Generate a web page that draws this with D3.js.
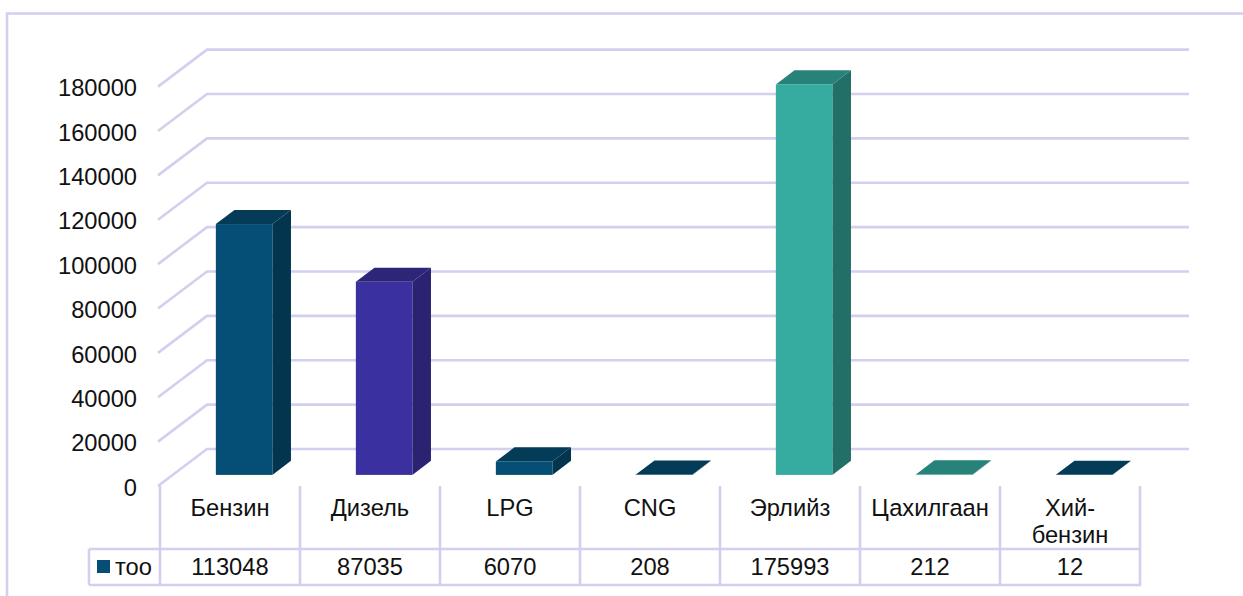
<!DOCTYPE html>
<html>
<head>
<meta charset="utf-8">
<script src="https://cdn.jsdelivr.net/npm/d3@7"></script>
<style>
  html, body { margin: 0; padding: 0; background: #fff; }
  svg { display: block; }
  text { font-family: "Liberation Sans", Arial, sans-serif; font-size: 23.7px; fill: #111; }
</style>
</head>
<body>
<div id="chart"></div>
<script>
const categories = [["Бензин"], ["Дизель"], ["LPG"], ["CNG"], ["Эрлийз"], ["Цахилгаан"], ["Хий-", "бензин"]];
const values = [113048, 87035, 6070, 208, 175993, 212, 12];
const yTicks = [0, 20000, 40000, 60000, 80000, 100000, 120000, 140000, 160000, 180000];
const seriesName = "тоо";

// front, side, top
const barColors = [
    ["#054e75", "#03354f", "#043c58"],
    ["#3a309f", "#2a2372", "#2c2578"],
    ["#054e75", "#03354f", "#043c58"],
    ["#054e75", "#03354f", "#043c58"],
    ["#36aba0", "#216f66", "#27827a"],
    ["#36aba0", "#216f66", "#27827a"],
    ["#054e75", "#03354f", "#043c58"]
];

const w = 1243;
const h = 596;
const gridColor = "#d2cfef";
const lineW = 2.6;

// the 3d box: floor goes back by wallX, wallY
const wallX = 49;
const wallY = 37;
const barZ0 = 0.3;
const barZ1 = 0.68;

const svg = d3.select("#chart")
    .append("svg")
    .attr("width", w)
    .attr("height", h);

const xScale = d3.scaleBand()
    .domain(d3.range(categories.length))
    .range([160, 1140]);

const yScale = d3.scaleLinear()
    .domain([0, 180000])
    .range([486, 86.6]);

// outer frame, runs off the picture on the right and bottom
svg.append("path")
    .attr("d", "M7,596V13.5H1243")
    .attr("fill", "none")
    .attr("stroke", gridColor)
    .attr("stroke-width", lineW);

// gridlines on side and back wall
svg.selectAll("path.grid")
    .data(yTicks)
    .enter()
    .append("path")
    .attr("class", "grid")
    .attr("d", (d) => d3.line()([
        [158, yScale(d)],
        [158 + wallX, yScale(d) - wallY],
        [1189, yScale(d) - wallY]
    ]))
    .attr("fill", "none")
    .attr("stroke", gridColor)
    .attr("stroke-width", lineW);

const yAxis = d3.axisLeft(yScale)
    .tickValues(yTicks)
    .tickFormat((d) => d)
    .tickSize(0)
    .tickPadding(0);

svg.append("g")
    .attr("transform", "translate(137,0.6)")
    .call(yAxis)
    .call((g) => g.select(".domain").remove())
    .selectAll("text")
    .attr("dy", "0.36em")
    .style("font-size", "23.7px")
    .style("font-family", '"Liberation Sans", Arial, sans-serif')
    .attr("fill", "#111");

// bars
const barW = 56.5;
const bars = svg.selectAll("g.bar")
    .data(values)
    .enter()
    .append("g")
    .attr("class", "bar");

const baseY = yScale(0) - wallY * barZ0;
const depthX = wallX * (barZ1 - barZ0);
const depthY = wallY * (barZ1 - barZ0);
const barLeft = (i) => xScale(i) + xScale.bandwidth() / 2 + wallX * barZ0 - barW / 2 - 0.6;
const barTop = (d) => baseY - (yScale(0) - yScale(d));

bars.append("path")
    .attr("d", (d, i) => {
        const x = barLeft(i) + barW;
        return d3.line()([[x, baseY], [x + depthX, baseY - depthY], [x + depthX, barTop(d) - depthY], [x, barTop(d)]]) + "Z";
    })
    .attr("fill", (d, i) => barColors[i][1]);

bars.append("path")
    .attr("d", (d, i) => {
        const x = barLeft(i);
        return d3.line()([[x, barTop(d)], [x + depthX, barTop(d) - depthY], [x + barW + depthX, barTop(d) - depthY], [x + barW, barTop(d)]]) + "Z";
    })
    .attr("fill", (d, i) => barColors[i][2]);

bars.append("rect")
    .attr("x", (d, i) => barLeft(i))
    .attr("y", (d) => barTop(d))
    .attr("width", barW)
    .attr("height", (d) => baseY - barTop(d))
    .attr("fill", (d, i) => barColors[i][0]);

// data table under the plot
const tableTop = 549;
const tableBottom = 585;
const tableLeft = 89;
const cellEdges = xScale.domain().map((i) => xScale(i)).concat(xScale.range()[1]);

svg.selectAll("line.cell")
    .data(cellEdges)
    .enter()
    .append("line")
    .attr("class", "cell")
    .attr("x1", (d) => d)
    .attr("x2", (d) => d)
    .attr("y1", 486)
    .attr("y2", tableBottom)
    .attr("stroke", gridColor)
    .attr("stroke-width", lineW);

svg.append("path")
    .attr("d", `M${tableLeft},${tableTop}H1141M${tableLeft},${tableBottom}H1141M${tableLeft},${tableTop}V${tableBottom}`)
    .attr("fill", "none")
    .attr("stroke", gridColor)
    .attr("stroke-width", lineW);

svg.append("rect")
    .attr("x", 97)
    .attr("y", 560)
    .attr("width", 13)
    .attr("height", 13)
    .attr("fill", barColors[0][0]);

svg.append("text")
    .attr("x", 115)
    .attr("y", 575)
    .text(seriesName);

const catLabels = svg.selectAll("text.cat")
    .data(categories)
    .enter()
    .append("text")
    .attr("class", "cat")
    .attr("text-anchor", "middle")
    .attr("x", (d, i) => xScale(i) + xScale.bandwidth() / 2)
    .attr("y", 516);

catLabels.selectAll("tspan")
    .data((d) => d)
    .enter()
    .append("tspan")
    .attr("x", function () { return this.parentNode.getAttribute("x"); })
    .attr("dy", (d, i) => (i ? 27 : 0))
    .text((d) => d);

svg.selectAll("text.val")
    .data(values)
    .enter()
    .append("text")
    .attr("class", "val")
    .attr("text-anchor", "middle")
    .attr("x", (d, i) => xScale(i) + xScale.bandwidth() / 2)
    .attr("y", 575)
    .text((d) => d);
</script>
</body>
</html>
